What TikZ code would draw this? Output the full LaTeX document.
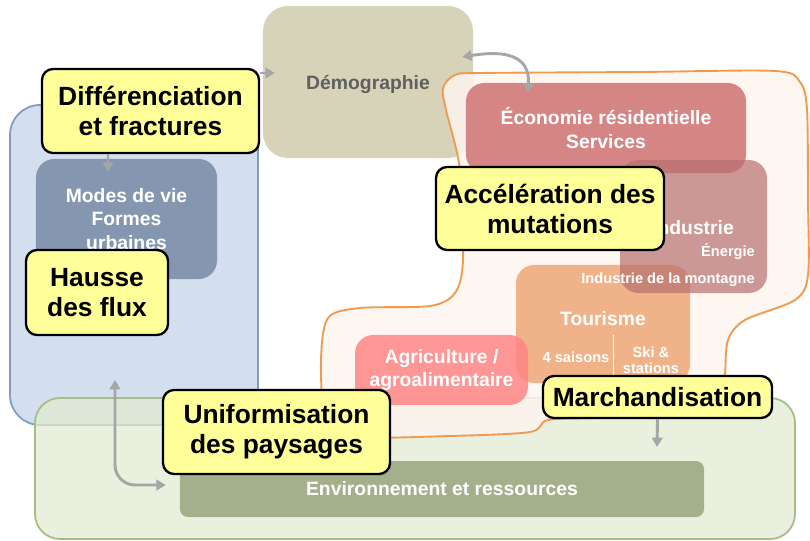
\documentclass[tikz,border=0pt]{standalone}
\usepackage{fontspec}
\setmainfont{Liberation Sans}
\usepackage{tikz}
\usetikzlibrary{arrows.meta}
\usetikzlibrary{calc}

\definecolor{bluebg}{HTML}{D3DFEE}
\definecolor{blueline}{HTML}{7F9CC4}
\definecolor{greenbg}{HTML}{E1EBD1}
\definecolor{greenline}{HTML}{A5BD83}
\definecolor{envgreen}{HTML}{A4AF8B}
\definecolor{demokhaki}{HTML}{D7D3B9}
\definecolor{demotext}{HTML}{5F5F5F}
\definecolor{modesblue}{HTML}{8496B0}
\definecolor{blobfill}{HTML}{FDF5EE}
\definecolor{blobline}{HTML}{EE9A50}
\definecolor{ecorose}{HTML}{D48584}
\definecolor{indusrose}{HTML}{B87070}
\definecolor{tourorange}{HTML}{F0B288}
\definecolor{agrisalmon}{HTML}{FF8585}
\definecolor{calloutyellow}{HTML}{FFFF99}
\definecolor{arrowgray}{HTML}{A6A6A6}

\begin{document}
\begin{tikzpicture}[x=0.03cm,y=-0.03cm]
	\tikzstyle{every node}=[font=\bfseries, align=center, inner sep=0pt]
	\tikzstyle{zone}=[line width=1.5pt, rounded corners=0.9cm]
	\tikzstyle{sector}=[rounded corners=0.55cm, text=white, font=\bfseries\fontsize{16.5}{20}\selectfont]
	\tikzstyle{small}=[text=white, font=\bfseries\fontsize{12.5}{13.7}\selectfont]
	\tikzstyle{callout}=[draw=black, fill=calloutyellow, line width=2pt, rounded corners=0.33cm, font=\bfseries\fontsize{22.5}{25.6}\selectfont]
	\tikzstyle{flow}=[draw=arrowgray, line width=2.5pt, -{Triangle[length=8pt,width=9pt]}]
	\tikzstyle{twoflow}=[flow, {Triangle[length=8pt,width=9pt]}-{Triangle[length=8pt,width=9pt]}]

	\useasboundingbox (0,0) rectangle (810,541);

	\node[zone, draw=blueline, fill=bluebg, minimum width=7.44cm, minimum height=9.6cm] (blue) at (134,265) {};
	\node[zone, draw=greenline, fill=greenbg, fill opacity=0.75, rounded corners=0.75cm, minimum width=22.8cm, minimum height=4.23cm] (green) at (415,468.5) {};
	\node[sector, fill=envgreen, rounded corners=0.24cm, minimum width=15.72cm, minimum height=1.68cm] (env) at (442,489) {Environnement et ressources};
	\node[sector, fill=demokhaki, text=demotext, rounded corners=0.75cm, minimum width=6.3cm, minimum height=4.56cm] (demo) at (368,82) {};
	\node[text=demotext, font=\bfseries\fontsize{16.5}{20}\selectfont] (demolabel) at (368,84) {Démographie};
	\node[sector, fill=modesblue, minimum width=5.43cm, minimum height=3.6cm] (modes) at (126.5,219) {Modes de vie\\Formes\\urbaines};

	\draw[blobline, line width=1.6pt, fill=blobfill, fill opacity=0.85] plot[smooth cycle, tension=0.5] coordinates {
		(480,73) (640,72) (775,71) (800,82) (807,110) (808,200) (808,275) (795,300) (745,320) (728,340)
		(725,375) (722,405) (705,416) (600,418) (548,420) (530,432) (450,436) (345,437) (325,420) (321,360)
		(328,318) (360,308) (430,306) (455,293) (463,260) (460,170) (446,110) (443,88) (455,75)};

	\node[sector, fill=ecorose, minimum width=8.4cm, minimum height=2.7cm] (eco) at (606,128) {Économie résidentielle\\Services};
	\node[sector, fill=tourorange, minimum width=5.22cm, minimum height=3.54cm] (tour) at (603,324) {};
	\node[sector, fill=indusrose, fill opacity=0.7, minimum width=4.41cm, minimum height=3.99cm] (indus) at (693.5,226.5) {};
	\node[sector, fill=agrisalmon, fill opacity=0.85, text opacity=1, minimum width=5.19cm, minimum height=2.1cm] (agri) at (441.5,370) {Agriculture /\\agroalimentaire};

	\node[sector] (induslabel) at (693,228) {Industrie};
	\node[small] (energie) at (728,252) {Énergie};
	\node[small] (montagne) at (668,280) {Industrie de la montagne};
	\node[sector] (tourlabel) at (603,319) {Tourisme};
	\node[small] (saisons) at (576,357) {4 saisons};
	\node[small] (ski) at (651,360) {Ski \&\\stations};
	\draw[white, line width=0.8pt] (613,335) -- (613,378);

	\node[callout, minimum width=6.51cm, minimum height=2.52cm] (diff) at (150.5,111) {Différenciation\\et fractures};
	\node[callout, minimum width=4.26cm, minimum height=2.55cm] (hausse) at (97,292.5) {Hausse\\des flux};
	\node[callout, minimum width=6.84cm, minimum height=2.49cm] (accel) at (550,208.5) {Accélération des\\mutations};
	\node[callout, minimum width=6.81cm, minimum height=2.52cm] (unif) at (276.5,432) {Uniformisation\\des paysages};
	\node[callout, minimum width=6.87cm, minimum height=1.26cm] (march) at (657.5,397) {Marchandisation};

	\coordinate (fluxtop) at (115,380);
	\coordinate (marchtip) at (657,447);

	\draw[flow] (diff.east |- 0,73) -- ($(demo.west |- 0,73)+(12,0)$);
	\draw[flow] (diff.south -| 108,0) -- ($(modes.north -| 108,0)+(0,13)$);
	\draw[twoflow] ($(demo.east)+(-11,-25)$) .. controls (505,50) and (530,55) .. ($(eco.north)+(-78,10)$);
	\draw[twoflow, rounded corners=0.6cm] (fluxtop) -- (115,485) -- ($(env.west)+(-14,-4)$);
	\draw[flow] (march.south) -- (marchtip);
\end{tikzpicture}
\end{document}
